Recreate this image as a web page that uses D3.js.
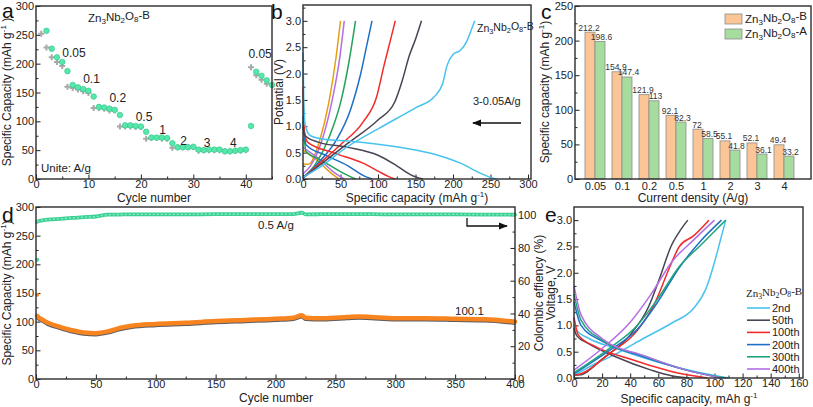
<!DOCTYPE html>
<html><head><meta charset="utf-8">
<script src="https://cdn.jsdelivr.net/npm/d3@7"></script>
<style>
body{margin:0;background:#fff;}
svg{font-family:"Liberation Sans",Arial,sans-serif;}
.tick text{font-size:11px;fill:#222;}
.domain{display:none;}
.tick line{stroke:#222;stroke-width:1;}
</style></head><body>
<svg id="c" width="813" height="407"></svg>
<script>
// ---------- DATA ----------
// Panel a: rate performance
const aGrayCycles = d3.range(1, 45);
const aGray = [252,228,211,203,196,160,158,155,152,149,123,123,122,119,119,91,91,91,90,90,70,71,71,70,70,54,55,55,55,55,49,50,50,50,50,48,48,49,49,50,194,180,172,165];
const aGreenCycles = d3.range(2, 46);
const aGreen = [257,226,211,203,187,163,159,156,153,143,125,124,122,120,111,93,93,92,91,82,72,72,72,71,62,55,55,55,56,51,50,51,51,51,48,48,49,50,51,92,186,179,171,163];
const aRateLabels = ["0.05","0.1","0.2","0.5","1","2","3","4","0.05"];
const aRateLabelPos = [[5,212],[9,167],[14,133],[19,100],[23.5,78],[27.5,59],[32,56],[37,56],[40.5,210]];

// Panel b: charge/discharge curves at different rates
const bRates = ["0.05","0.1","0.2","0.5","1","2","3"];
const bColors = ["#47c3ee","#4a4452","#f22b2b","#1f6fc4","#22a35a","#b46ee4","#e4a012"];
const bCharge = [
  [[0,0.03],[20,0.2],[60,0.62],[100,0.95],[150,1.35],[175,1.56],[186,1.8],[192,2.15],[200,2.36],[210,2.44],[218,2.6],[225,2.85],[229,3.0]],
  [[0,0.02],[30,0.35],[60,0.68],[100,1.12],[122,1.45],[132,1.85],[142,2.35],[150,2.65],[158,3.0]],
  [[0,0.02],[20,0.27],[50,0.65],[80,1.08],[98,1.55],[108,2.15],[116,2.6],[123,3.0]],
  [[0,0.02],[20,0.3],[45,0.75],[63,1.3],[77,2.0],[86,2.6],[92,3.0]],
  [[0,0.03],[15,0.25],[35,0.8],[51,1.5],[61,2.2],[70,3.0]],
  [[0,0.1],[10,0.25],[25,0.72],[39,1.5],[49,2.3],[55,3.0]],
  [[0,0.28],[6,0.28],[11,0.32],[22,0.72],[34,1.42],[44,2.3],[50,3.0]]
];
const bDischarge = [
  [[0,2.4],[1,1.5],[3,1.02],[10,0.82],[30,0.75],[60,0.72],[100,0.66],[150,0.55],[180,0.45],[210,0.3],[235,0.12],[250,0.03],[258,0]],
  [[0,1.0],[3,0.82],[20,0.7],[60,0.6],[100,0.45],[125,0.25],[145,0.07],[160,0]],
  [[0,1.75],[2,0.9],[6,0.7],[40,0.5],[80,0.3],[100,0.15],[115,0.04],[123,0]],
  [[0,1.2],[4,0.65],[30,0.45],[60,0.25],[80,0.07],[92,0]],
  [[0,1.1],[4,0.52],[25,0.35],[50,0.14],[70,0]],
  [[0,0.6],[5,0.55],[20,0.4],[40,0.14],[55,0]],
  [[0,0.55],[5,0.5],[20,0.34],[35,0.14],[48,0]]
];

// Panel c: capacity vs current density
const cCategories = ["0.05","0.1","0.2","0.5","1","2","3","4"];
const cB = [212.2,154.9,121.9,92.1,72,55.1,52.1,49.4];
const cA = [198.6,147.4,113,82.3,58.5,41.8,36.1,33.2];

// Panel d: long cycling at 0.5 A/g (anchor readings)
const dCycles = [1,2,5,10,20,30,40,50,60,70,80,100,125,150,175,200,215,222,225,240,260,270,280,300,325,350,375,400];
const dCapacity = [110,108,104,98,91,85,81,80,83,89,93,96,98,101,103,105,107,111,107,106,108,109,108,106,106,105,104,100];
const dFirstCap = 147;
const dCE = [96.0,96.3,96.8,97.3,97.8,98.3,98.8,99.2,100.3,100.4,100.5,100.5,100.5,100.6,100.6,100.6,100.7,101.5,100.5,100.6,100.6,100.6,100.6,100.5,100.5,100.5,100.4,100.3];
const dFirstCE = 72.8;

// Panel e: GCD curves at selected cycles
const eCycles = ["2nd","50th","100th","200th","300th","400th"];
const eColors = ["#47c3ee","#4a4452","#f22b2b","#1f6fc4","#1fa57e","#b46ee4"];
const eCharge = [
  [[0,0.05],[10,0.2],[30,0.46],[50,0.76],[70,1.05],[85,1.32],[94,1.7],[100,2.2],[104,2.6],[108,3.0]],
  [[0,0.05],[5,0.06],[20,0.36],[40,0.82],[53,1.35],[61,1.9],[69,2.5],[76,2.82],[81,3.0]],
  [[0,0.05],[5,0.08],[25,0.46],[45,0.9],[58,1.45],[68,2.1],[75,2.5],[85,2.7],[96,3.0]],
  [[0,0.08],[25,0.52],[45,0.92],[60,1.46],[75,2.1],[90,2.6],[105,3.0]],
  [[0,0.1],[25,0.56],[45,1.0],[60,1.52],[75,2.12],[90,2.52],[108,3.0]],
  [[0,0.15],[20,0.56],[40,1.06],[55,1.6],[70,2.22],[85,2.62],[100,3.0]]
];
const eDischarge = [
  [[0,1.0],[2,0.9],[10,0.76],[30,0.56],[60,0.3],[90,0.1],[110,0]],
  [[0,0.95],[2,0.8],[10,0.66],[30,0.4],[55,0.15],[70,0.04],[82,0]],
  [[0,1.15],[3,0.82],[15,0.6],[40,0.36],[70,0.12],[95,0]],
  [[0,1.45],[5,1.0],[20,0.7],[50,0.4],[80,0.15],[105,0]],
  [[0,1.6],[5,1.1],[20,0.72],[50,0.42],[80,0.15],[108,0]],
  [[0,1.75],[5,1.2],[20,0.75],[50,0.42],[80,0.15],[105,0]]
];

// ---------- HELPERS ----------
const svg = d3.select("#c");
const FR = "#2b2b2b";

function frame(x0,x1,y0,y1){
  svg.append("rect").attr("x",x0).attr("y",y0).attr("width",x1-x0).attr("height",y1-y0)
    .attr("fill","none").attr("stroke",FR).attr("stroke-width",1.4);
}
function axes(x, y, xt, xminor, yt, yminor, xfmt, yfmt){
  const [x0,x1] = x.range(), [y0,y1] = y.range();
  svg.append("g").attr("transform",`translate(0,${y0})`)
    .call(d3.axisBottom(x).tickValues(xt).tickSize(-4.5).tickPadding(1).tickFormat(xfmt||d3.format("")));
  svg.append("g").attr("transform",`translate(0,${y0})`)
    .call(d3.axisBottom(x).tickValues(xminor).tickSize(-2.5).tickFormat(""));
  svg.append("g").attr("transform",`translate(${x0},0)`)
    .call(d3.axisLeft(y).tickValues(yt).tickSize(-4.5).tickPadding(2).tickFormat(yfmt||d3.format("")));
  svg.append("g").attr("transform",`translate(${x0},0)`)
    .call(d3.axisLeft(y).tickValues(yminor).tickSize(-2.5).tickFormat(""));
}
function title(x,y,txt,rot,size){
  const t = svg.append("text").attr("x",x).attr("y",y).attr("text-anchor","middle")
    .attr("font-size",size||12).attr("fill","#222");
  if(rot) t.attr("transform",`rotate(-90,${x},${y})`);
  return t;
}
function capTitle(t, pre, post){
  t.append("tspan").text(pre);
  t.append("tspan").text("-1").attr("font-size","8px").attr("dy",-5);
  t.append("tspan").text(post).attr("dy",5);
}
function znText(t, suf){
  t.append("tspan").text("Zn");
  t.append("tspan").text("3").attr("font-size","0.7em").attr("dy","0.25em");
  t.append("tspan").text("Nb").attr("dy","-0.25em");
  t.append("tspan").text("2").attr("font-size","0.7em").attr("dy","0.25em");
  t.append("tspan").text("O").attr("dy","-0.25em");
  t.append("tspan").text("8").attr("font-size","0.7em").attr("dy","0.25em");
  t.append("tspan").text(suf).attr("dy","-0.25em");
}
function letter(x,y,l){
  svg.append("text").attr("x",x).attr("y",y).attr("font-size",21).attr("fill","#111").text(l);
}
const rng = (a,b,s)=>d3.range(a,b+1e-9,s);

// ---------- PANEL A ----------
{
  const x = d3.scaleLinear([0,45],[36,272]);
  const y = d3.scaleLinear([0,300],[179,6]);
  axes(x,y,rng(0,40,10),rng(5,45,10),rng(0,300,50),rng(25,275,50));
  const g = svg.append("g");
  aGray.forEach((v,i)=>{
    const cx=x(aGrayCycles[i]), cy=y(v);
    g.append("path").attr("d",`M${cx-3},${cy}H${cx+3}M${cx},${cy-3}V${cy+3}`)
      .attr("stroke","#a9a9a9").attr("stroke-width",2);
  });
  aGreen.forEach((v,i)=>{
    g.append("circle").attr("cx",x(aGreenCycles[i])).attr("cy",y(v)).attr("r",2.8)
      .attr("fill","#56e8aa").attr("stroke","#2fc38a").attr("stroke-width",0.6);
  });
  aRateLabels.forEach((l,i)=>{
    svg.append("text").attr("x",x(aRateLabelPos[i][0])).attr("y",y(aRateLabelPos[i][1]))
      .attr("font-size",12).attr("fill","#222").text(l);
  });
  znText(svg.append("text").attr("x",88).attr("y",22).attr("font-size",11.5).attr("fill","#222"),"-B");
  svg.append("text").attr("x",41).attr("y",172).attr("font-size",11.5).attr("fill","#222").text("Unite: A/g");
  frame(36,272,6,179);
  capTitle(title(11,92,"",true,12),"Specific Capacity (mAh g"," )");
  title(154,202,"Cycle number",false,12).text("Cycle number");
  letter(2,18,"a");
}

// ---------- PANEL B ----------
{
  const x = d3.scaleLinear([0,304],[303,531]);
  const y = d3.scaleLinear([0,3.3],[179,5]);
  axes(x,y,rng(0,300,50),rng(25,275,50),rng(0,3,0.5),rng(0.25,3.25,0.5),null,d3.format(".1f"));
  const line = d3.line().x(d=>x(d[0])).y(d=>y(d[1])).curve(d3.curveMonotoneX);
  const g = svg.append("g");
  for(let i=bRates.length-1;i>=0;i--){
    g.append("path").attr("d",line(bDischarge[i])).attr("fill","none").attr("stroke",bColors[i]).attr("stroke-width",1.5);
    g.append("path").attr("d",line(bCharge[i])).attr("fill","none").attr("stroke",bColors[i]).attr("stroke-width",1.5);
  }
  frame(303,531,5,179);
  znText(svg.append("text").attr("x",477).attr("y",32).attr("font-size",10.5).attr("fill","#222"),"-B");
  svg.append("text").attr("x",473).attr("y",105).attr("font-size",11).attr("fill","#222").text("3-0.05A/g");
  svg.append("defs").append("marker").attr("id","ah").attr("viewBox","0 0 10 10").attr("refX",9).attr("refY",5)
    .attr("markerWidth",7).attr("markerHeight",7).attr("orient","auto-start-reverse")
    .append("path").attr("d","M0,1L10,5L0,9z").attr("fill","#111");
  svg.append("line").attr("x1",521).attr("x2",473).attr("y1",123).attr("y2",123)
    .attr("stroke","#111").attr("stroke-width",1.3).attr("marker-end","url(#ah)");
  title(283,92,"Potential (V)",true,12).text("Potential (V)");
  capTitle(title(417,202,"",false,12),"Specific capacity (mAh g",")");
  letter(271,19,"b");
}

// ---------- PANEL C ----------
{
  const x = d3.scalePoint(cCategories,[595,784]);
  const y = d3.scaleLinear([0,250],[179,6]);
  svg.append("g").attr("transform","translate(0,179)")
    .call(d3.axisBottom(x).tickSize(0).tickPadding(3));
  svg.append("g").attr("transform","translate(575,0)")
    .call(d3.axisLeft(y).tickValues(rng(0,250,50)).tickSize(-4.5).tickPadding(2));
  svg.append("g").attr("transform","translate(575,0)")
    .call(d3.axisLeft(y).tickValues(rng(25,225,50)).tickSize(-2.5).tickFormat(""));
  const bw = 10;
  cCategories.forEach((c,i)=>{
    const cx = x(c);
    svg.append("rect").attr("x",cx-bw).attr("y",y(cB[i])).attr("width",bw).attr("height",179-y(cB[i]))
      .attr("fill","#fbc595").attr("stroke","#8c8c8c").attr("stroke-width",0.8);
    svg.append("rect").attr("x",cx).attr("y",y(cA[i])).attr("width",bw).attr("height",179-y(cA[i]))
      .attr("fill","#a7dc9f").attr("stroke","#8c8c8c").attr("stroke-width",0.8);
    svg.append("text").attr("x",cx-bw/2-1).attr("y",y(cB[i])-1.5).attr("text-anchor","middle")
      .attr("font-size",8.5).attr("fill","#333").text(cB[i]);
    svg.append("text").attr("x",cx+bw/2+1.5).attr("y",y(cA[i])-1.5).attr("text-anchor","middle")
      .attr("font-size",8.5).attr("fill","#333").text(cA[i]);
  });
  frame(575,811,6,179);
  svg.append("rect").attr("x",725).attr("y",14).attr("width",17).attr("height",10).attr("fill","#fbc595").attr("stroke","#8c8c8c").attr("stroke-width",0.8);
  svg.append("rect").attr("x",725).attr("y",29).attr("width",17).attr("height",10).attr("fill","#a7dc9f").attr("stroke","#8c8c8c").attr("stroke-width",0.8);
  znText(svg.append("text").attr("x",745).attr("y",23).attr("font-size",11.5).attr("fill","#222"),"-B");
  znText(svg.append("text").attr("x",745).attr("y",38).attr("font-size",11.5).attr("fill","#222"),"-A");
  capTitle(title(549,92,"",true,12),"Specific capacity (mAh g",")");
  title(693,202,"",false,12).text("Current density (A/g)");
  letter(541,19,"c");
}

// ---------- PANEL D ----------
{
  const x = d3.scaleLinear([0,400],[36,515]);
  const y = d3.scaleLinear([0,300],[379,207]);
  const yr = d3.scaleLinear([0,105],[379,207]);
  axes(x,y,rng(0,400,50),rng(25,375,50),rng(0,300,50),rng(25,275,50));
  svg.append("g").attr("transform","translate(515,0)")
    .call(d3.axisRight(yr).tickValues(rng(0,100,20)).tickSize(-4.5).tickPadding(3));
  svg.append("g").attr("transform","translate(515,0)")
    .call(d3.axisRight(yr).tickValues(rng(10,90,20)).tickSize(-2.5).tickFormat(""));
  const lc = d3.line().x((d,i)=>x(dCycles[i])).y(d=>y(d)).curve(d3.curveMonotoneX);
  const le = d3.line().x((d,i)=>x(dCycles[i])).y(d=>yr(d)).curve(d3.curveMonotoneX);
  svg.append("path").attr("d",lc(dCapacity)).attr("transform","translate(0,1.5)").attr("fill","none").attr("stroke","#5b5b66").attr("stroke-width",3.5);
  svg.append("path").attr("d",lc(dCapacity)).attr("fill","none").attr("stroke","#f7841e").attr("stroke-width",4.5).attr("stroke-linecap","round");
  svg.append("circle").attr("cx",x(1)).attr("cy",y(dFirstCap)).attr("r",2).attr("fill","#f7841e");
  svg.append("path").attr("d",le(dCE)).attr("fill","none").attr("stroke","#3fcf96").attr("stroke-width",3.8).attr("stroke-linecap","round");
  svg.append("path").attr("d",le(dCE)).attr("fill","none").attr("stroke","#7ff0c0").attr("stroke-width",1.4).attr("stroke-dasharray","2,2");
  svg.append("circle").attr("cx",x(1)).attr("cy",yr(dFirstCE)).attr("r",2).attr("fill","#45dba0");
  frame(36,515,207,379);
  svg.append("text").attr("x",258).attr("y",229).attr("font-size",11.5).attr("fill","#222").text("0.5 A/g");
  svg.append("text").attr("x",455).attr("y",315).attr("font-size",11.5).attr("fill","#222").text("100.1");
  svg.append("path").attr("d","M467,218V226H507").attr("fill","none").attr("stroke","#111").attr("stroke-width",1.3).attr("marker-end","url(#ah)");
  capTitle(title(11,293,"",true,12),"Specific Capacity (mAh g",")");
  title(276,402,"",false,12).text("Cycle number");
  title(543,293,"",true,12).text("Colombic effiency (%)");
  letter(2,222,"d");
}

// ---------- PANEL E ----------
{
  const x = d3.scaleLinear([0,163],[574,803]);
  const y = d3.scaleLinear([0,3.25],[378,207]);
  axes(x,y,rng(0,160,20),rng(10,150,20),rng(0,3,0.5),rng(0.25,3.0,0.5),null,d3.format(".1f"));
  const line = d3.line().x(d=>x(d[0])).y(d=>y(d[1])).curve(d3.curveMonotoneX);
  eCycles.forEach((c,i)=>{
    svg.append("path").attr("d",line(eDischarge[i])).attr("fill","none").attr("stroke",eColors[i]).attr("stroke-width",1.5);
    svg.append("path").attr("d",line(eCharge[i])).attr("fill","none").attr("stroke",eColors[i]).attr("stroke-width",1.5);
  });
  frame(574,803,207,378);
  const lt = svg.append("text").attr("x",746).attr("y",297).attr("font-size",11).attr("fill","#222")
    .attr("font-family","'Liberation Serif','Times New Roman',serif");
  znText(lt,"-B");
  eCycles.forEach((c,i)=>{
    const yy = 308 + i*12.2;
    svg.append("line").attr("x1",747).attr("x2",770).attr("y1",yy).attr("y2",yy).attr("stroke",eColors[i]).attr("stroke-width",1.6);
    svg.append("text").attr("x",772).attr("y",yy+4).attr("font-size",11).attr("fill","#222").text(c);
  });
  title(555,293,"",true,12).text("Voltage, V");
  capTitle(title(689,403,"",false,12),"Specific capacity, mAh g","");
  letter(545,222,"e");
}
</script></body></html>
